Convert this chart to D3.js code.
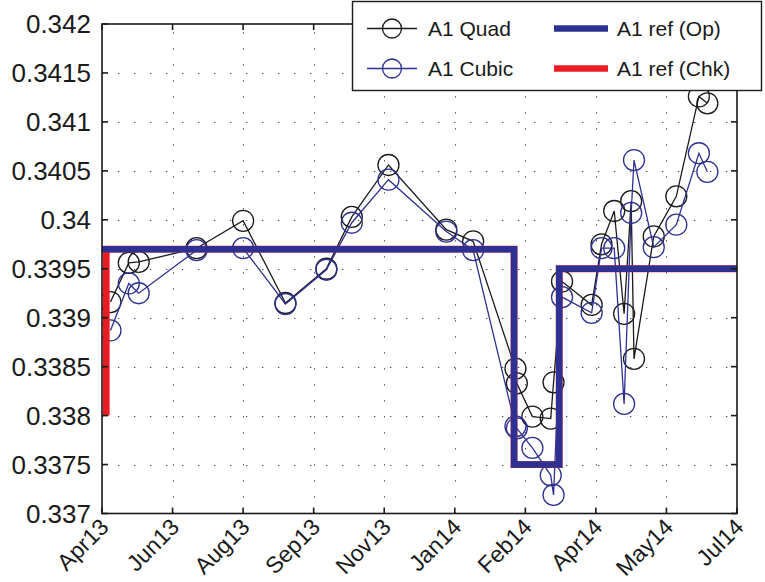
<!DOCTYPE html>
<html>
<head>
<meta charset="utf-8">
<script src="https://cdn.jsdelivr.net/npm/d3@7"></script>
<style>
  body { margin: 0; background: #fff; }
  svg { display: block; }
  text { font-family: "Liberation Sans", Arial, Helvetica, sans-serif; fill: #1a1a1a; }
</style>
</head>
<body>
<svg id="chart" width="765" height="582"></svg>
<script>
// Sample dates shared by both fits
const sampleDates = [
  "2013-05-02", "2013-05-15", "2013-05-22", "2013-07-02", "2013-08-04",
  "2013-09-03", "2013-10-02", "2013-10-20", "2013-11-15", "2013-12-26",
  "2014-01-14", "2014-02-13", "2014-02-14", "2014-02-25", "2014-03-10",
  "2014-03-12", "2014-03-18", "2014-04-08", "2014-04-15", "2014-04-24",
  "2014-05-01", "2014-05-06", "2014-05-08", "2014-05-22", "2014-06-07",
  "2014-06-23", "2014-06-29"
];
const quadValues = [
  0.33916, 0.33956, 0.33957, 0.33971, 0.33999,
  0.33915, 0.33950, 0.34003, 0.34056, 0.33990,
  0.33978, 0.33848, 0.33833, 0.33799, 0.33797,
  0.33834, 0.33937, 0.33913, 0.33975, 0.34009,
  0.33904, 0.34019, 0.33858, 0.33983, 0.34024,
  0.34126, 0.34119
];
const cubicValues = [
  0.33887, 0.33935, 0.33925, 0.33969, 0.33971,
  0.33914, 0.33949, 0.33997, 0.34041, 0.33988,
  0.33969, 0.33789, 0.33787, 0.33767, 0.33739,
  0.33719, 0.33921, 0.33905, 0.33971, 0.33971,
  0.33812, 0.34007, 0.34061, 0.33972, 0.33995,
  0.34068, 0.34049
];

// Reference levels (step functions)
const opRefDates = ["2013-04-20", "2014-02-12", "2014-03-16", "2014-07-25"];
const opRefValues = [0.3397, 0.3375, 0.3395, 0.3395];
const chkRefDates = ["2013-04-29", "2013-04-29", "2014-02-12", "2014-03-16", "2014-07-25"];
const chkRefValues = [0.3380, 0.3397, 0.3375, 0.3395, 0.3395];

// Axis ticks
const xDomain = ["2013-04-26", "2014-07-20"];
const xTickDates = [
  "2013-04-26", "2013-06-15", "2013-08-04", "2013-09-23", "2013-11-12",
  "2014-01-01", "2014-02-20", "2014-04-11", "2014-05-31", "2014-07-20"
];
const xTickLabels = ["Apr13", "Jun13", "Aug13", "Sep13", "Nov13", "Jan14", "Feb14", "Apr14", "May14", "Jul14"];
const yTickValues = [0.337, 0.3375, 0.338, 0.3385, 0.339, 0.3395, 0.340, 0.3405, 0.341, 0.3415, 0.342];
const yTickLabels = ["0.337", "0.3375", "0.338", "0.3385", "0.339", "0.3395", "0.34", "0.3405", "0.341", "0.3415", "0.342"];

const seriesNames = ["A1 Quad", "A1 Cubic", "A1 ref (Op)", "A1 ref (Chk)"];

const BLACK = "#1a1a1a", BLUE = "#2e3192", RED = "#ed1c24";
const parse = d3.utcParse("%Y-%m-%d");

const plot = { left: 102, top: 24, right: 737, bottom: 513.5 };
const svg = d3.select("#chart");

const x = d3.scaleUtc().domain(xDomain.map(parse)).range([plot.left, plot.right]);
const y = d3.scaleLinear().domain([0.337, 0.342]).range([plot.bottom, plot.top]);

svg.append("defs").append("clipPath").attr("id", "plot-clip")
  .append("rect")
  .attr("x", plot.left).attr("y", plot.top)
  .attr("width", plot.right - plot.left).attr("height", plot.bottom - plot.top);

// Dotted grid
const grid = svg.append("g").attr("stroke", "#444").attr("stroke-width", 1)
  .attr("stroke-dasharray", "1.3 14.7");
grid.selectAll(".gx").data(xTickDates.slice(1, -1)).join("line")
  .attr("x1", d => Math.round(x(parse(d))) + 0.5).attr("x2", d => Math.round(x(parse(d))) + 0.5)
  .attr("y1", plot.bottom).attr("y2", plot.top);
grid.selectAll(".gy").data(yTickValues.slice(1, -1)).join("line")
  .attr("y1", d => Math.round(y(d)) + 0.5).attr("y2", d => Math.round(y(d)) + 0.5)
  .attr("x1", plot.left).attr("x2", plot.right);

const series = svg.append("g").attr("clip-path", "url(#plot-clip)");

function drawFit(values, color) {
  const pts = sampleDates.map((d, i) => [x(parse(d)), y(values[i])]);
  const g = series.append("g");
  g.append("path")
    .attr("d", d3.line()(pts))
    .attr("fill", "none").attr("stroke", color).attr("stroke-width", 1.3)
    .attr("stroke-linejoin", "miter");
  g.selectAll("circle").data(pts).join("circle")
    .attr("cx", d => d[0]).attr("cy", d => d[1]).attr("r", 10.5)
    .attr("fill", "none").attr("stroke", color).attr("stroke-width", 1.3);
}
drawFit(quadValues, BLACK);
drawFit(cubicValues, BLUE);

const stepLine = d3.line().curve(d3.curveStepAfter);
function drawRef(dates, values, color, width) {
  series.append("path")
    .attr("d", stepLine(dates.map((d, i) => [x(parse(d)), y(values[i])])))
    .attr("fill", "none").attr("stroke", color).attr("stroke-width", width)
    .attr("stroke-linejoin", "miter");
}
drawRef(chkRefDates, chkRefValues, RED, 6.8);
drawRef(opRefDates, opRefValues, BLUE, 6.5);

// Axes box with inward ticks on all sides
const axes = svg.append("g").attr("stroke", BLACK).attr("stroke-width", 1.6).attr("fill", "none");
axes.append("rect")
  .attr("x", plot.left).attr("y", plot.top)
  .attr("width", plot.right - plot.left).attr("height", plot.bottom - plot.top);
const TL = 6;
xTickDates.forEach(d => {
  const px = x(parse(d));
  axes.append("line").attr("x1", px).attr("x2", px).attr("y1", plot.bottom).attr("y2", plot.bottom - TL);
  axes.append("line").attr("x1", px).attr("x2", px).attr("y1", plot.top).attr("y2", plot.top + TL);
});
yTickValues.forEach(v => {
  const py = y(v);
  axes.append("line").attr("y1", py).attr("y2", py).attr("x1", plot.left).attr("x2", plot.left + TL);
  axes.append("line").attr("y1", py).attr("y2", py).attr("x1", plot.right).attr("x2", plot.right - TL);
});

// Tick labels
svg.append("g").selectAll("text").data(yTickValues).join("text")
  .attr("x", plot.left - 11).attr("y", d => y(d))
  .attr("dy", "0.36em").attr("text-anchor", "end")
  .attr("font-size", 26).text((d, i) => yTickLabels[i]);

svg.append("g").selectAll("text").data(xTickDates).join("text")
  .attr("transform", d => `translate(${x(parse(d)) + 8},${plot.bottom + 15}) rotate(-45)`)
  .attr("text-anchor", "end")
  .attr("font-size", 23).text((d, i) => xTickLabels[i]);

// Legend
const lg = svg.append("g");
lg.append("rect").attr("x", 352.5).attr("y", 1.5).attr("width", 409).attr("height", 89)
  .attr("fill", "#fff").attr("stroke", BLACK).attr("stroke-width", 1.4);
const rows = [28.5, 68.5];
[[BLACK, 0], [BLUE, 1]].forEach(([c, r]) => {
  lg.append("line").attr("x1", 367).attr("x2", 417).attr("y1", rows[r]).attr("y2", rows[r])
    .attr("stroke", c).attr("stroke-width", 1.3);
  lg.append("circle").attr("cx", 392).attr("cy", rows[r]).attr("r", 9.5)
    .attr("fill", "none").attr("stroke", c).attr("stroke-width", 1.3);
  lg.append("text").attr("x", 428).attr("y", rows[r]).attr("dy", "0.36em")
    .attr("font-size", 21).text(seriesNames[r]);
});
[[BLUE, 0, 2], [RED, 1, 3]].forEach(([c, r, n]) => {
  lg.append("line").attr("x1", 554).attr("x2", 608).attr("y1", rows[r]).attr("y2", rows[r])
    .attr("stroke", c).attr("stroke-width", 6.5);
  lg.append("text").attr("x", 617).attr("y", rows[r]).attr("dy", "0.36em")
    .attr("font-size", 21).text(seriesNames[n]);
});
</script>
</body>
</html>
